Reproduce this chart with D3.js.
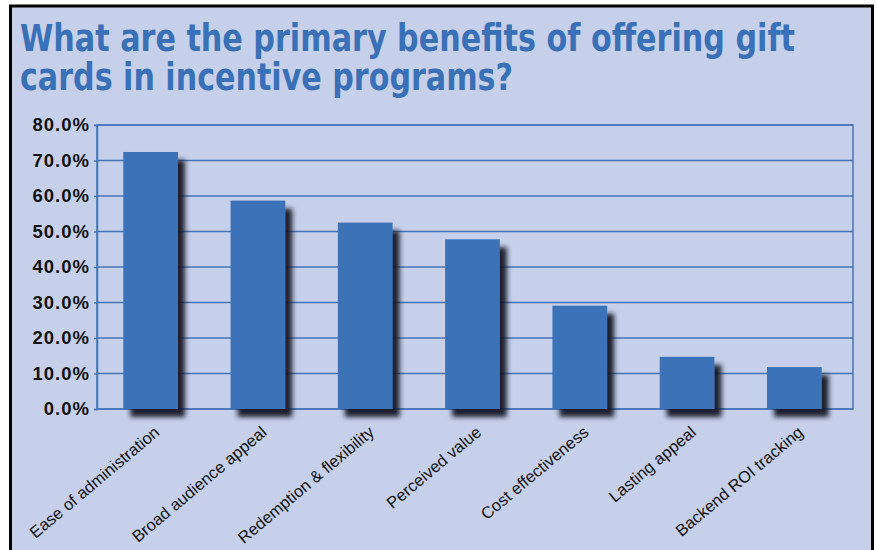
<!DOCTYPE html>
<html>
<head>
<meta charset="utf-8">
<script src="https://cdn.jsdelivr.net/npm/d3@7"></script>
<style>
  html, body { margin: 0; padding: 0; background: #ffffff; }
  svg { display: block; }
</style>
</head>
<body>
<svg id="chart" width="877" height="550"></svg>
<script>
// ---- data ----
const titleLines = ["What are the primary benefits of offering gift", "cards in incentive programs?"];
const categories = ["Ease of administration", "Broad audience appeal", "Redemption & flexibility",
                    "Perceived value", "Cost effectiveness", "Lasting appeal", "Backend ROI tracking"];
const values = [72.4, 58.7, 52.5, 47.8, 29.1, 14.7, 11.8];
const yTicks = [0, 10, 20, 30, 40, 50, 60, 70, 80];

// ---- layout ----
const W = 877, H = 550;
const plot = { left: 97, right: 853, top: 125, bottom: 409 };
const blue = "#3a72b8";
const gridBlue = "#4674b9";
const bg = "#c6d0ea";

const svg = d3.select("#chart");

const defs = svg.append("defs");
const f = defs.append("filter").attr("id", "shadow")
  .attr("x", "-20%").attr("y", "-20%").attr("width", "160%").attr("height", "160%");
f.append("feGaussianBlur").attr("in", "SourceAlpha").attr("stdDeviation", 2.6).attr("result", "b");
f.append("feOffset").attr("in", "b").attr("dx", 7).attr("dy", 8).attr("result", "o");
f.append("feFlood").attr("flood-color", "#151826").attr("flood-opacity", 0.95).attr("result", "c");
f.append("feComposite").attr("in", "c").attr("in2", "o").attr("operator", "in").attr("result", "s");
const m = f.append("feMerge");
m.append("feMergeNode").attr("in", "s");
m.append("feMergeNode").attr("in", "SourceGraphic");

// outer panel
svg.append("rect").attr("x", 0).attr("y", 0).attr("width", W).attr("height", H).attr("fill", "#ffffff");
svg.append("rect").attr("x", 10.5).attr("y", 6).attr("width", 862).attr("height", 570)
  .attr("fill", bg).attr("stroke", "#000").attr("stroke-width", 3);

// title
const title = svg.append("g");
const titleEnds = [795, 513];
titleLines.forEach((t, i) => {
  title.append("text")
    .attr("x", 20).attr("y", 51 + i * 39)
    .attr("fill", "#3a70b7")
    .attr("font-family", "'Liberation Sans Narrow', 'DejaVu Sans Condensed', 'Roboto Condensed', Arial, sans-serif")
    .attr("font-weight", "bold")
    .attr("font-size", 37)
    .attr("textLength", titleEnds[i] - 20)
    .attr("lengthAdjust", "spacingAndGlyphs")
    .text(t);
});

// scales
const y = d3.scaleLinear().domain([0, 80]).range([plot.bottom, plot.top]);
const x = d3.scaleBand().domain(categories).range([plot.left, 848]).paddingInner(0.49).paddingOuter(0.245);

// gridlines
svg.append("g").selectAll("line").data(yTicks).join("line")
  .attr("x1", plot.left).attr("x2", plot.right)
  .attr("y1", d => y(d)).attr("y2", d => y(d))
  .attr("stroke", gridBlue).attr("stroke-width", 1.5);

// plot frame
svg.append("rect")
  .attr("x", plot.left).attr("y", plot.top)
  .attr("width", plot.right - plot.left).attr("height", plot.bottom - plot.top)
  .attr("fill", "none").attr("stroke", gridBlue).attr("stroke-width", 1.5);

// y axis
const yAxis = d3.axisLeft(y).tickValues(yTicks).tickSize(3).tickPadding(4)
  .tickFormat(d => d.toFixed(1) + "%");
const ya = svg.append("g").attr("transform", `translate(${plot.left},0)`).call(yAxis);
ya.select(".domain").attr("stroke", gridBlue).attr("stroke-width", 1.5);
ya.selectAll(".tick line").attr("stroke", gridBlue).attr("stroke-width", 1.5);
ya.selectAll(".tick text")
  .attr("fill", "#111")
  .attr("font-family", "'Liberation Sans', Arial, sans-serif")
  .attr("font-weight", "bold")
  .attr("font-size", 18.5)
  .attr("letter-spacing", 1);

// bars
svg.append("g").attr("filter", "url(#shadow)")
  .selectAll("rect").data(values).join("rect")
  .attr("x", (d, i) => x(categories[i]))
  .attr("width", x.bandwidth())
  .attr("y", d => y(d))
  .attr("height", d => y(0) - y(d))
  .attr("fill", blue);

// category labels
svg.append("g").selectAll("text").data(categories).join("text")
  .attr("transform", d => `translate(${x(d) + x.bandwidth() / 2 + 10},434) rotate(-40)`)
  .attr("text-anchor", "end")
  .attr("fill", "#111")
  .attr("font-family", "'Liberation Sans', Arial, sans-serif")
  .attr("font-size", 16.5)
  .text(d => d);
</script>
</body>
</html>
